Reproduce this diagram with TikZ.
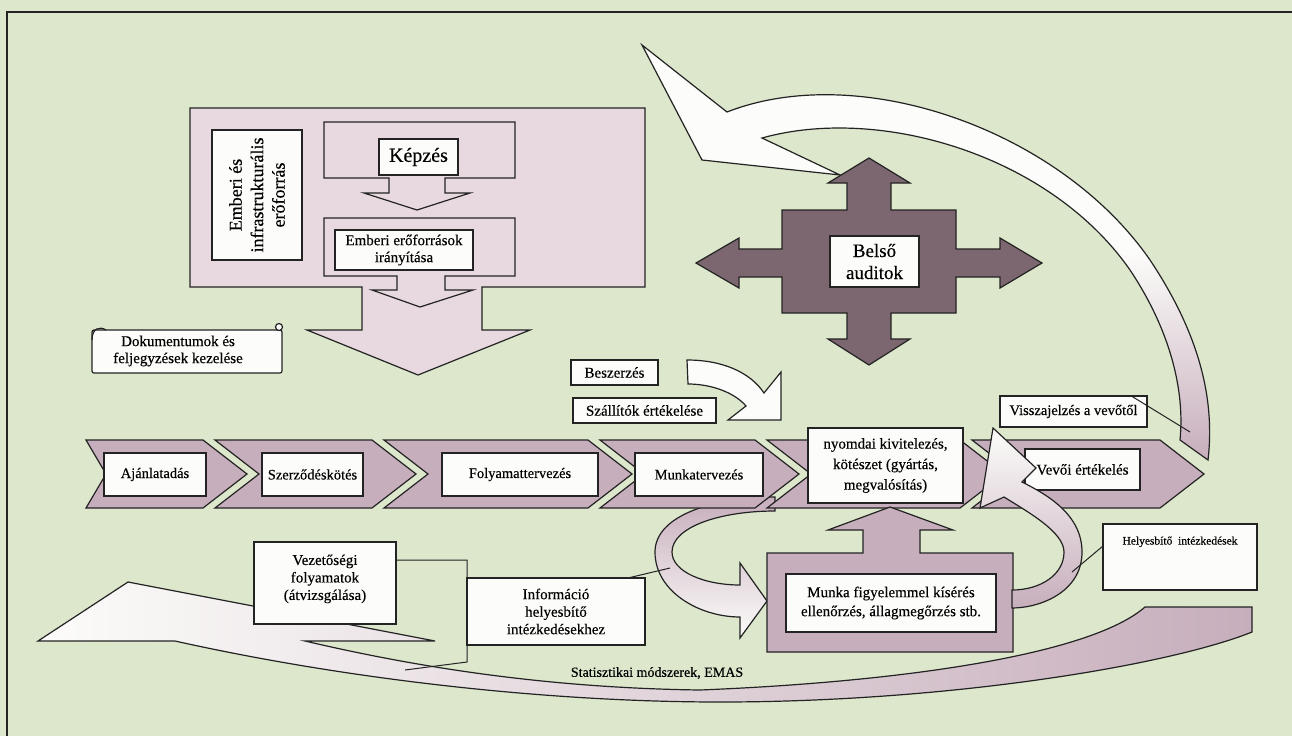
\documentclass[tikz,border=0pt]{standalone}
\usepackage{fontspec}
\setmainfont{Liberation Serif}[FakeBold=0.3]
\newcommand\fsz[2]{\fontsize{#1}{#2}\selectfont}
\definecolor{bg}{RGB}{220,231,204}
\definecolor{chev}{RGB}{199,174,188}
\definecolor{lpink}{RGB}{232,216,223}
\definecolor{dmauve}{RGB}{124,102,112}
\definecolor{lc}{RGB}{35,35,35}
\definecolor{wh}{RGB}{252,252,250}
\newcommand\rbox[7][]{\node[wbox,minimum width={#5-#3},minimum height={#6-#4},#1] (#2) at ({(#3+#5)/2},{(#4+#6)/2}) {#7};}
\newcommand\chevron[3]{\filldraw[chevpath] (#1,440) -- (#3,440) -- ({#3+44},474) -- (#3,508) -- (#1,508) -- ({#1+#2},474) -- cycle;}
\begin{document}
\begin{tikzpicture}[x=1pt,y=-1pt, line join=miter,
  ol/.style={draw=lc, line width=1.2pt},
  wbox/.style={ol, fill=wh, inner sep=1pt, outer sep=0pt, align=center, font=\fsz{14.5}{16.5}},
  leader/.style={draw=lc, line width=1pt},
  chevpath/.style={ol, fill=chev}]
\fill[bg] (0,0) rectangle (1292,736);
\useasboundingbox (0,0) rectangle (1292,736);
\draw[lc, line width=1.2pt] (7,736) -- (7,12) -- (1292,12);

% big feedback arrow (top)
\shadedraw[ol, top color=wh, bottom color=chev, middle color=wh]
 (642,45) -- (727,112) .. controls (860,60) and (1060,130) .. (1150,260)
 .. controls (1200,335) and (1215,400) .. (1208,460) -- (1180,440)
 .. controls (1185,390) and (1170,330) .. (1130,270)
 .. controls (1050,155) and (880,105) .. (762,138) -- (840,175) -- (702,160) -- cycle;

% resource container with big down arrow
\filldraw[ol, fill=lpink] (190,108) -- (645,108) -- (645,287) -- (482,287) -- (482,330) -- (530,330) -- (418,375) -- (307,330) -- (362,330) -- (362,287) -- (190,287) -- cycle;
\filldraw[ol, fill=lpink] (324,122) -- (515,122) -- (515,178) -- (445,178) -- (445,193) -- (470,193) -- (417,210) -- (364,193) -- (389,193) -- (389,178) -- (324,178) -- cycle;
\filldraw[ol, fill=lpink] (324,218) -- (515,218) -- (515,276) -- (445,276) -- (445,290) -- (473,290) -- (420,307) -- (372,290) -- (397,290) -- (397,276) -- (324,276) -- cycle;
\node[wbox, rotate=90, minimum width=130, minimum height=90, font=\fsz{18}{21.5}] (infra) at (257,195) {Emberi és\\infrastrukturális\\erőforrás};
\rbox[font=\fsz{20}{22}]{kepzes}{379}{139}{458}{175}{Képzés}
\rbox[font=\fsz{15}{17}]{emberi}{335}{230}{473}{270}{Emberi erőforrások\\irányítása}

% scroll
\filldraw[ol, fill=wh, rounded corners=2pt] (92,330) rectangle (282,373);
\draw[ol, fill=wh] (279,327) circle (3.5);
\draw[ol] (92,340) .. controls (92,328) and (100,326) .. (106,330);
\node[font=\fsz{15}{17}, align=center] (doc) at (178,351) {Dokumentumok és\\feljegyzések kezelése};

% internal audits cross
\filldraw[ol, fill=dmauve] (782,210) -- (847,210) -- (847,183) -- (828,183) -- (869,158) -- (910,183) -- (891,183) -- (891,210) -- (956,210) -- (956,249) -- (1000,249) -- (1000,238) -- (1042,263) -- (1000,288) -- (1000,277) -- (956,277) -- (956,313) -- (891,313) -- (891,339) -- (910,339) -- (869,365) -- (828,339) -- (847,339) -- (847,313) -- (782,313) -- (782,277) -- (739,277) -- (739,288) -- (696,263) -- (739,238) -- (739,249) -- (782,249) -- cycle;
\rbox[font=\fsz{19}{22}]{belso}{830}{236}{919}{287}{Belső\\auditok}

% purchasing
\rbox[font=\fsz{15}{17}]{besz}{571}{360}{658}{385}{Beszerzés}
\rbox[font=\fsz{15}{17}]{szall}{573}{398}{716}{423}{Szállítók értékelése}
\filldraw[ol, fill=wh] (687,360) .. controls (722,360) and (750,372) .. (764,393) -- (781,372) -- (781,420) -- (728,420) -- (746,406) .. controls (735,393) and (712,384) .. (688,384) -- cycle;

% customer feedback
\rbox{vissz}{1000}{396}{1147}{427}{Visszajelzés a vevőtől}
\coordinate (vissze) at (1190,432);
\draw[leader] (vissz.15) -- (vissze);

% bottom sweep arrow
\shadedraw[ol, left color=wh, right color=chev]
 (1252,607) -- (1145,607) .. controls (1090,655) and (900,682) .. (700,690)
 .. controls (550,688) and (420,668) .. (305,641) -- (435,641) -- (128,582) -- (38,641) -- (175,641)
 .. controls (350,680) and (550,702) .. (720,702) .. controls (950,702) and (1170,665) .. (1252,632) -- cycle;

% left loop arrow
\shadedraw[ol, top color=chev, bottom color=wh]
 (775,497) .. controls (715,497) and (655,515) .. (655,552) .. controls (655,592) and (700,617) .. (740,617)
 -- (740,638) -- (767,601) -- (740,563) -- (740,585)
 .. controls (705,585) and (672,572) .. (672,552) .. controls (672,527) and (720,511) .. (775,511) -- cycle;

% process chevrons
\chevron{86}{20}{203}
\chevron{215}{44}{372}
\chevron{384}{44}{588}
\chevron{600}{44}{755}
\chevron{767}{44}{960}
\chevron{972}{44}{1160}
\rbox{aj}{104}{453}{206}{496}{Ajánlatadás}
\rbox{szer}{262}{453}{363}{496}{Szerződéskötés}
\rbox{foly}{442}{453}{598}{496}{Folyamattervezés}
\rbox{munkt}{635}{453}{763}{496}{Munkatervezés}
\rbox[font=\fsz{15}{20.5}]{nyom}{808}{428}{963}{503}{nyomdai kivitelezés,\\kötészet (gyártás,\\megvalósítás)}
\rbox[font=\fsz{15}{17}]{vevoi}{1025}{449}{1140}{490}{Vevői értékelés}

% monitoring box with up arrow
\filldraw[ol, fill=chev] (767,553) -- (863,553) -- (863,530) -- (828,530) -- (890,507) -- (953,530) -- (920,530) -- (920,553) -- (1013,553) -- (1013,652) -- (767,652) -- cycle;
\rbox[font=\fsz{15}{19}]{munka}{786}{574}{996}{632}{Munka figyelemmel kísérés\\ellenőrzés, állagmegőrzés stb.}

% right loop arrow
\shadedraw[ol, top color=wh, bottom color=chev]
 (993,428) -- (1036,468) -- (1022,482) .. controls (1048,495) and (1082,515) .. (1082,552)
 .. controls (1082,592) and (1040,608) .. (1012,608) -- (1012,590)
 .. controls (1040,590) and (1064,575) .. (1064,552) .. controls (1064,532) and (1028,512) .. (1004,497)
 -- (980,508) -- cycle;

% information box
\rbox[font=\fsz{15}{17.5}]{info}{467}{578}{645}{645}{Információ\\helyesbítő\\intézkedésekhez}
\coordinate (infoe) at (670,568);
\draw[leader] (info.25) -- (infoe);

% management box
\rbox{vez}{254}{542}{396}{624}{}
\node[font=\fsz{15}{17.5}, align=center, anchor=north] (vezt) at (325,551) {Vezetőségi\\folyamatok\\(átvizsgálása)};
\coordinate (vz1) at (467,560);
\coordinate (vz2) at (467,662);
\coordinate (vzend) at (405,670);
\draw[leader] (vez.east |- vz1) -- (vz1) -- (vz2) -- (vzend);

% corrective actions box
\rbox{helyes}{1103}{524}{1257}{590}{}
\node[font=\fsz{11.5}{13}, anchor=north] (helyt) at (1180,533) {Helyesbítő\ \ intézkedések};
\coordinate (hend) at (1072,572);
\draw[leader] (helyes.west |- 0,546) -- (hend);

\node[font=\fsz{14}{16}] (stat) at (657,673) {Statisztikai módszerek, EMAS};
\end{tikzpicture}
\end{document}
